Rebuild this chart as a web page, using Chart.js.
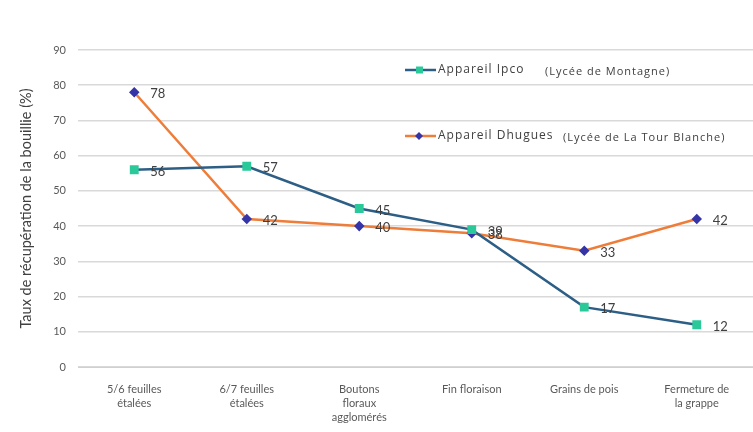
<!DOCTYPE html>
<html lang="fr">
<head>
<meta charset="UTF-8">
<title>Taux de récupération de la bouillie</title>
<script src="https://cdn.jsdelivr.net/npm/chart.js"></script>
<style>
    html, body { margin: 0; padding: 0; background: #fff; overflow: hidden; }
    #wrap { width: 760px; height: 432px; }
</style>
</head>
<body>
<div id="wrap"><canvas id="chart" width="760" height="432"></canvas></div>
<script>
// Stades phénologiques (axe X, libellés sur plusieurs lignes)
var stades = [
    ['5/6 feuilles', 'étalées'],
    ['6/7 feuilles', 'étalées'],
    ['Boutons', 'floraux', 'agglomérés'],
    ['Fin floraison'],
    ['Grains de pois'],
    ['Fermeture de', 'la grappe']
];
var ipco = [56, 57, 45, 39, 17, 12];
var dhugues = [78, 42, 40, 38, 33, 42];
var yTicks = [0, 10, 20, 30, 40, 50, 60, 70, 80, 90];

var FONT = 'Lato, "Open Sans", sans-serif';
var grey = '#595959';

// Valeurs affichées à droite de chaque point
var valueLabels = {
    id: 'valueLabels',
    afterDatasetsDraw: function (chart) {
        var ctx = chart.ctx;
        ctx.save();
        ctx.font = '13px ' + FONT;
        ctx.fillStyle = '#404040';
        ctx.textBaseline = 'middle';
        chart.data.datasets.forEach(function (ds, i) {
            chart.getDatasetMeta(i).data.forEach(function (pt, j) {
                ctx.fillText(String(ds.data[j]), pt.x + 16, pt.y + 2);
            });
        });
        ctx.restore();
    }
};

// Légende placée dans la zone du graphique
var legendBox = {
    id: 'legendBox',
    afterDraw: function (chart) {
        var ctx = chart.ctx, a = chart.chartArea;
        var items = [
            { ds: 0, main: 'Appareil Ipco', sub: '(Lycée de Montagne)', y: a.top + 20, subX: 140 },
            { ds: 1, main: 'Appareil Dhugues', sub: '(Lycée de La Tour Blanche)', y: a.top + 86, subX: 158 }
        ];
        var x0 = a.left + 327;
        ctx.save();
        items.forEach(function (it) {
            var ds = chart.data.datasets[it.ds];
            ctx.strokeStyle = ds.borderColor;
            ctx.lineWidth = 2.5;
            ctx.beginPath();
            ctx.moveTo(x0, it.y);
            ctx.lineTo(x0 + 31, it.y);
            ctx.stroke();
            ctx.fillStyle = ds.pointBackgroundColor;
            ctx.beginPath();
            if (ds.pointStyle === 'rect') {
                ctx.rect(x0 + 11, it.y - 3.5, 7, 7);
            } else {
                ctx.moveTo(x0 + 14, it.y - 4);
                ctx.lineTo(x0 + 18, it.y);
                ctx.lineTo(x0 + 14, it.y + 4);
                ctx.lineTo(x0 + 10, it.y);
                ctx.closePath();
            }
            ctx.fill();
            ctx.fillStyle = '#404040';
            ctx.textBaseline = 'middle';
            ctx.letterSpacing = '1px';
            ctx.font = '12px "Open Sans", sans-serif';
            ctx.fillText(it.main, x0 + 33, it.y);
            ctx.font = '11px "Open Sans", sans-serif';
            ctx.fillText(it.sub, x0 + it.subX, it.y + 2);
        });
        ctx.restore();
    }
};

new Chart(document.getElementById('chart'), {
    type: 'line',
    data: {
        labels: stades,
        datasets: [
            {
                label: 'Appareil Ipco (Lycée de Montagne)',
                data: ipco,
                borderColor: '#2C5E86',
                borderWidth: 2.5,
                pointStyle: 'rect',
                pointRadius: 4.5,
                pointBackgroundColor: '#2BC99A',
                pointBorderColor: '#2BC99A',
                tension: 0
            },
            {
                label: 'Appareil Dhugues (Lycée de La Tour Blanche)',
                data: dhugues,
                borderColor: '#EE7D3A',
                borderWidth: 2.5,
                pointStyle: 'rectRot',
                pointRadius: 3.5,
                pointBackgroundColor: '#3535A8',
                pointBorderColor: '#3535A8',
                tension: 0
            }
        ]
    },
    options: {
        responsive: false,
        animation: false,
        layout: { padding: { top: 50, right: 4, left: 18, bottom: 0 } },
        plugins: {
            legend: { display: false },
            tooltip: { enabled: false }
        },
        scales: {
            x: {
                offset: true,
                grid: { display: false },
                border: { color: '#d0d0d0' },
                ticks: {
                    color: grey,
                    font: { family: FONT, size: 11, lineHeight: 1.3 },
                    maxRotation: 0,
                    autoSkip: false,
                    padding: 7
                },
                afterFit: function (s) { s.height = 65; }
            },
            y: {
                min: 0,
                max: 90,
                afterBuildTicks: function (s) {
                    s.ticks = yTicks.map(function (v) { return { value: v }; });
                },
                grid: { color: '#d9d9d9', lineWidth: 1.5, drawTicks: false },
                border: { display: false },
                ticks: {
                    color: grey,
                    font: { family: FONT, size: 11 },
                    padding: 12
                },
                title: {
                    display: true,
                    text: 'Taux de récupération de la bouillie (%)',
                    color: '#404040',
                    font: { family: FONT, size: 14.5 },
                    padding: { top: 0, bottom: 2 }
                },
                afterFit: function (s) { s.width = 60; }
            }
        }
    },
    plugins: [valueLabels, legendBox]
});
</script>
</body>
</html>
